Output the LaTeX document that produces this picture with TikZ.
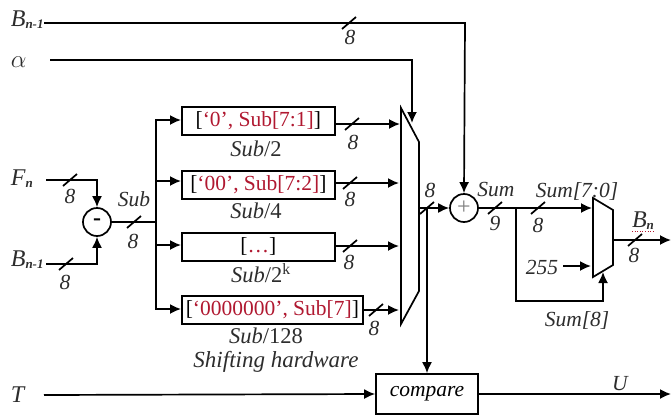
\documentclass[tikz,border=0pt]{standalone}
\usepackage{fontspec}
\setmainfont{Liberation Serif}
\usepackage{tikz}
\usetikzlibrary{arrows.meta}
\definecolor{shiftred}{RGB}{176, 24, 48}
\definecolor{labelgray}{RGB}{45,45,45}
\newcommand{\redtxt}[1]{\textcolor{shiftred}{#1}}
\newcommand{\sigsub}[2]{{\fontsize{24}{24}\selectfont\textit{#1}}{\fontsize{13}{13}\selectfont\raisebox{-2pt}{\textbf{\textit{#2}}}}}

\begin{document}
\begin{tikzpicture}[x=1pt, y=-1pt, line width=1.7pt,
  wire/.style={draw=black},
  arrowwire/.style={draw=black, -{Latex[length=11pt,width=10pt]}},
  shiftbox/.style={draw=black, rectangle, minimum height=28pt, inner sep=0pt, font=\fontsize{21.5}{23}\selectfont},
  sumcircle/.style={draw=black, circle, minimum size=28pt, inner sep=0pt, font=\fontsize{24}{24}\selectfont},
  lab/.style={text=labelgray, inner sep=0pt, font=\fontsize{21.5}{23}\selectfont\itshape},
  upl/.style={text=labelgray, inner sep=0pt, font=\fontsize{22.5}{24}\selectfont}]

\useasboundingbox (0,0) rectangle (671,415);

% Input labels
\node[lab, anchor=west] (bprevtop) at (10,20) {\sigsub{B}{n-1}};
\node[lab, anchor=west, font=\fontsize{25}{25}\selectfont] (alpha) at (10,62) {$\alpha$};
\node[lab, anchor=west] (fn) at (10,179) {\sigsub{F}{n}};
\node[lab, anchor=west] (bprevlow) at (10,260) {\sigsub{B}{n-1}};
\node[lab, anchor=west, font=\fontsize{24}{24}\selectfont\itshape] (thr) at (10,395) {T};

% Subtractor and adder
\node[sumcircle] (minus) at (97,222) {\textbf{-}};
\node[sumcircle] (plus) at (464,208) {\textcolor{gray}{+}};

% Shifting boxes
\node[shiftbox, anchor=north west, minimum width=153pt] (shiftA) at (181,106) {[\redtxt{‘0’, Sub[7:1]}]};
\node[shiftbox, anchor=north west, minimum width=153pt] (shiftB) at (181,170) {[\redtxt{‘00’, Sub[7:2]}]};
\node[shiftbox, anchor=north west, minimum width=153pt] (shiftC) at (181,232) {[\redtxt{…}]};
\node[shiftbox, anchor=north west, minimum width=181pt] (shiftD) at (181,295) {[\redtxt{‘0000000’, Sub[7]}]};

\node[upl] (divA) at (256,149) {\textit{Sub}/2};
\node[upl] (divB) at (256,211) {\textit{Sub}/4};
\node[upl] (divC) at (261,273) {\textit{Sub}/2\textsuperscript{k}};
\node[upl] (divD) at (266,336) {\textit{Sub}/128};
\node[lab, font=\fontsize{23}{25}\selectfont\itshape] (shifthw) at (276,362) {Shifting hardware};

% Muxes
\draw[wire] (401,108) coordinate (muxA) -- (419,142) -- (419,291) -- (401,324) -- cycle;
\draw[wire] (593,198) coordinate (muxB) -- (613,210) -- (613,265) -- (593,277) -- cycle;

% Compare
\node[draw=black, rectangle, minimum width=102pt, minimum height=40pt, inner sep=0pt, lab, text=black] (cmp) at (427,394) {compare};

% Junctions and free ends
\coordinate (bstart) at (44,23);
\coordinate (bturn) at (465,23);
\coordinate (astart) at (50,60);
\coordinate (aturn) at (412,60);
\coordinate (aend) at (412,123);
\coordinate (fstart) at (46,180);
\coordinate (fturn) at (97,180);
\coordinate (lstart) at (46,264);
\coordinate (lturn) at (97,264);
\coordinate (bus) at (156,222);
\coordinate (muxout) at (419,208);
\coordinate (tap) at (427,208);
\coordinate (split) at (516,208);
\coordinate (sumturn) at (516,301);
\coordinate (selturn) at (603,301);

% Top inputs
\draw[arrowwire] (bstart) -- (bturn) -- (plus.north);
\draw[arrowwire] (astart) -- (aturn) -- (aend);

% Subtraction
\draw[arrowwire] (fstart) -- (fturn) -- (minus.north);
\draw[arrowwire] (lstart) -- (lturn) -- (minus.south);
\draw[wire] (minus.east) -- (bus);

% Fan out to shifters
\foreach \b/\y in {shiftA/120, shiftB/181, shiftC/245, shiftD/309} {
  \draw[arrowwire] (156,222) -- (156,\y) -- (\b.west |- 0,\y);
}

% Shifters to mux
\draw[arrowwire] (shiftA.east |- 0,124) -- (400,124);
\draw[arrowwire] (shiftB.east |- 0,183) -- (399,183);
\draw[arrowwire] (shiftC.east |- 0,246) -- (399,246);
\draw[arrowwire] (shiftD.east |- 0,310) -- (399,310);

% Adder and output mux
\draw[arrowwire] (muxout) -- (plus.west);
\draw[arrowwire] (tap) -- (cmp.north -| tap);
\draw[arrowwire] (plus.east) -- (592,208);
\draw[arrowwire] (split) -- (sumturn) -- (selturn) -- (603,272);
\node[lab] (sat) at (542,267) {255};
\draw[arrowwire] (563,266) -- (591,266);
\draw[arrowwire] (613,240) -- (671,240);

% Threshold compare
\draw[arrowwire] (44,395) -- (cmp.west);
\draw[arrowwire] (cmp.east) -- (671,394);

% Bus widths
\foreach \n/\x/\y/\lx/\ly/\w in {a/349/23/350/37/8, b/70/180/70/196/8, c/66/264/65/282/8, d/134/222/133/241/8,
    e/352/124/353/142/8, f/350/183/350/199/8, g/350/246/349/262/8, h/376/310/374/328/8,
    i/427/208/430/190/8, j/495/208/495/223/9, k/538/208/538/225/8, l/635/240/634/255/8} {
  \draw[wire] (\x-7,\y+6) -- (\x+7,\y-6);
  \node[lab] (width\n) at (\lx,\ly) {\w};
}

% Signal names
\node[lab] (sub) at (134,199) {Sub};
\node[lab] (sumlab) at (496,190) {Sum};
\node[lab] (sumlow) at (577,191) {Sum[7:0]};
\node[lab] (sumhigh) at (577,320) {Sum[8]};
\node[lab] (bn) at (643,221) {\sigsub{B}{n}};
\draw[shiftred, line width=0.6pt, dotted] (632,231) -- (654,231);
\node[lab] (ulab) at (620,384) {U};

\end{tikzpicture}
\end{document}
